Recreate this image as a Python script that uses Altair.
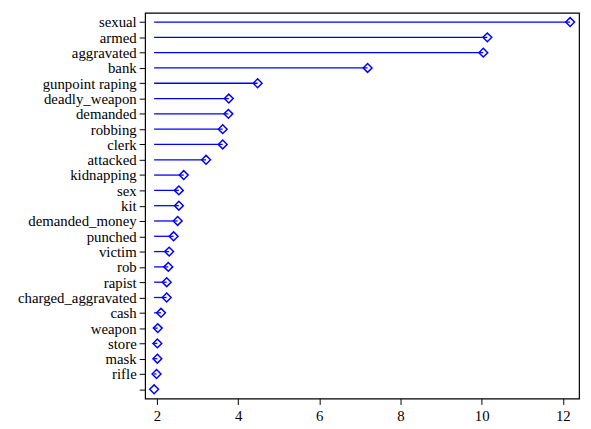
import altair as alt
import pandas as pd

terms = ["sexual", "armed", "aggravated", "bank", "gunpoint raping", "deadly_weapon",
         "demanded", "robbing", "clerk", "attacked", "kidnapping", "sex", "kit",
         "demanded_money", "punched", "victim", "rob", "rapist", "charged_aggravated",
         "cash", "weapon", "store", "mask", "rifle", ""]
scores = [12.18, 10.14, 10.04, 7.19, 4.48, 3.77, 3.76, 3.62, 3.62, 3.21, 2.66, 2.54, 2.54,
          2.51, 2.41, 2.30, 2.28, 2.24, 2.24, 2.10, 2.02, 2.01, 2.01, 1.99, 1.93]
baseline = 1.93
x_ticks = [2, 4, 6, 8, 10, 12]
x_domain = [1.708, 12.40]

df = pd.DataFrame({"term": terms, "score": scores, "base": [baseline] * len(terms)})

blue = "#0000ff"
serif = "Liberation Serif"

y_enc = alt.Y("term:N", sort=terms, scale=alt.Scale(type="point", padding=0.6),
              axis=alt.Axis(title=None, labelPadding=3, labelFont=serif, labelFontSize=15))
x_enc = alt.X("score:Q", scale=alt.Scale(domain=x_domain, nice=False, zero=False),
              axis=alt.Axis(values=x_ticks, title=None, labelPadding=4, format="d",
                            labelFont=serif, labelFontSize=15))

rules = alt.Chart(df).mark_rule(color=blue, strokeWidth=1.3).encode(
    y=y_enc, x=x_enc, x2="base:Q")
points = alt.Chart(df).mark_point(shape="diamond", filled=False, color=blue,
                                  size=80, strokeWidth=1.5, opacity=1).encode(
    y=alt.Y("term:N", sort=terms), x="score:Q")

chart = alt.layer(rules, points).properties(
    width=440, height=391,
    autosize=alt.AutoSizeParams(type="none"),
    padding={"left": 139, "top": 2, "right": 4, "bottom": 28},
).configure_view(stroke="black", strokeWidth=1.2).configure_axis(
    domain=False, grid=False, tickColor="black", tickSize=6, tickWidth=1,
    labelFont=serif, labelColor="black",
)

chart.save("out.html", embed_options={"renderer": "svg", "actions": False})
